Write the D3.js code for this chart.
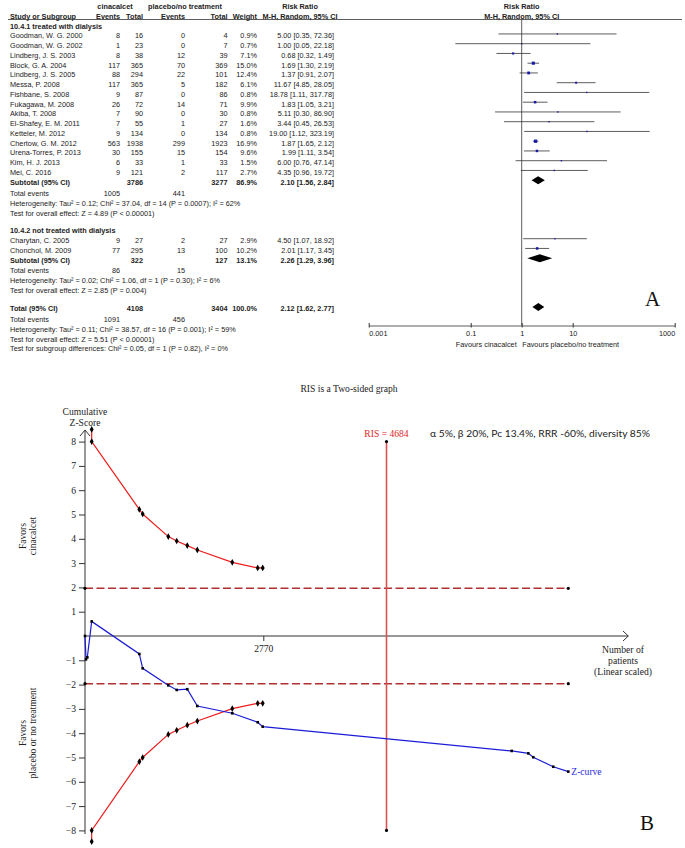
<!DOCTYPE html>
<html>
<head>
<meta charset="utf-8">
<script src="https://cdn.jsdelivr.net/npm/d3@7"></script>
<style>
  body { margin: 0; background: #fff; }
  svg { display: block; }
</style>
</head>
<body>
<div id="wrapper"></div>
<script>
// ---------- panel A: forest plot data ----------
const group1Title = '10.4.1 treated with dialysis'
// name, cinacalcet events, total, placebo events, total, weight %, RR, lower, upper
const group1Studies = [
  ['Goodman, W. G. 2000', 8, 16, 0, 4, 0.9, 5.00, 0.35, 72.36],
  ['Goodman, W. G. 2002', 1, 23, 0, 7, 0.7, 1.00, 0.05, 22.18],
  ['Lindberg, J. S. 2003', 8, 38, 12, 39, 7.1, 0.68, 0.32, 1.49],
  ['Block, G. A. 2004', 117, 365, 70, 369, 15.0, 1.69, 1.30, 2.19],
  ['Lindberg, J. S. 2005', 88, 294, 22, 101, 12.4, 1.37, 0.91, 2.07],
  ['Messa, P. 2008', 117, 365, 5, 182, 6.1, 11.67, 4.85, 28.05],
  ['Fishbane, S. 2008', 9, 87, 0, 86, 0.8, 18.78, 1.11, 317.78],
  ['Fukagawa, M. 2008', 26, 72, 14, 71, 9.9, 1.83, 1.05, 3.21],
  ['Akiba, T. 2008', 7, 90, 0, 30, 0.8, 5.11, 0.30, 86.90],
  ['El-Shafey, E. M. 2011', 7, 55, 1, 27, 1.6, 3.44, 0.45, 26.53],
  ['Ketteler, M. 2012', 9, 134, 0, 134, 0.8, 19.00, 1.12, 323.19],
  ['Chertow, G. M. 2012', 563, 1938, 299, 1923, 16.9, 1.87, 1.65, 2.12],
  ['Urena-Torres, P. 2013', 30, 155, 15, 154, 9.6, 1.99, 1.11, 3.54],
  ['Kim, H. J. 2013', 6, 33, 1, 33, 1.5, 6.00, 0.76, 47.14],
  ['Mei, C. 2016', 9, 121, 2, 117, 2.7, 4.35, 0.96, 19.72],
]
// cin total, pla total, weight, RR, lower, upper
const group1Subtotal = [3786, 3277, 86.9, 2.10, 1.56, 2.84]
const group1Events = [1005, 441]
const group1Notes = [
  'Heterogeneity: Tau² = 0.12; Chi² = 37.04, df = 14 (P = 0.0007); I² = 62%',
  'Test for overall effect: Z = 4.89 (P < 0.00001)',
]

const group2Title = '10.4.2 not treated with dialysis'
const group2Studies = [
  ['Charytan, C. 2005', 9, 27, 2, 27, 2.9, 4.50, 1.07, 18.92],
  ['Chonchol, M. 2009', 77, 295, 13, 100, 10.2, 2.01, 1.17, 3.45],
]
const group2Subtotal = [322, 127, 13.1, 2.26, 1.29, 3.96]
const group2Events = [86, 15]
const group2Notes = [
  'Heterogeneity: Tau² = 0.02; Chi² = 1.06, df = 1 (P = 0.30); I² = 6%',
  'Test for overall effect: Z = 2.85 (P = 0.004)',
]

const overallTotal = [4108, 3404, 100.0, 2.12, 1.62, 2.77]
const overallEvents = [1091, 456]
const overallNotes = [
  'Heterogeneity: Tau² = 0.11; Chi² = 38.57, df = 16 (P = 0.001); I² = 59%',
  'Test for overall effect: Z = 5.51 (P < 0.00001)',
  'Test for subgroup differences: Chi² = 0.05, df = 1 (P = 0.82), I² = 0%',
]
const rrTicks = [0.001, 0.1, 1, 10, 1000]

// ---------- panel B: trial sequential analysis data ----------
// cumulative number of patients and cumulative z at each point of the z-curve
const zCurveN = [0, 16, 36, 104, 844, 896, 1294, 1425, 1589, 1745, 2288, 2683, 2761, 6629, 6887, 6964, 7275, 7508]
const zCurveZ = [0, -0.96, -0.88, 0.60, -0.74, -1.33, -2.03, -2.22, -2.19, -2.88, -3.18, -3.55, -3.73, -4.73, -4.83, -4.99, -5.38, -5.58]
// monitoring boundaries
const boundN = [104, 104, 844, 896, 1294, 1425, 1589, 1745, 2288, 2683, 2761]
const upperZ = [8.5, 8.0, 5.21, 5.02, 4.09, 3.91, 3.72, 3.54, 3.03, 2.80, 2.80]
const lowerZ = [-8.46, -8.0, -5.17, -5.0, -4.05, -3.88, -3.67, -3.50, -2.99, -2.77, -2.77]
const conventionalZ = [1.96, -1.96]
const conventionalN = [0, 7508]
const risN = 4684
const risZ = [8, -8]
const xTicksB = [2770]
const yTicksB = [8, 7, 6, 5, 4, 3, 2, 1, -1, -2, -3, -4, -5, -6, -7, -8]

// ---------- svg ----------
const width = 685
const height = 848
const svg = d3.select('#wrapper')
  .append('svg')
  .attr('width', width)
  .attr('height', height)
svg.append('rect').attr('width', width).attr('height', height).attr('fill', '#fff')

// =============== panel A ===============
const sans = 'Liberation Sans, Arial, sans-serif'
const serif = 'Liberation Serif, Times New Roman, serif'
const fs = 7.3
const ink = '#222'

const panelA = svg.append('g').attr('class', 'forest')
  .attr('font-family', sans).attr('font-size', fs).attr('fill', ink)

// row index -> vertical position (text centre)
const rowY = d3.scaleLinear().domain([0, 1]).range([26, 35.75])
const xRR = d3.scaleLog().domain([0.001, 1000]).range([368.7, 674.7])

const col = { name: 10, ce: 120, ct: 143, pe: 185, pt: 227.5, w: 257, ci: 334, ciHead: 300 }
const fmt2 = d3.format('.2f')
const fmtW = (d) => d3.format('.1f')(d) + '%'
const ciText = (rr, lo, hi) => `${fmt2(rr)} [${fmt2(lo)}, ${fmt2(hi)}]`

function txt(x, y, s, anchor = 'start', bold = false) {
  panelA.append('text')
    .attr('x', x).attr('y', y + 2.6)
    .attr('text-anchor', anchor)
    .attr('font-weight', bold ? 'bold' : 'normal')
    .text(s)
}

// headers
txt(115, 6, 'cinacalcet', 'middle', true)
txt(185, 6, 'placebo/no treatment', 'middle', true)
txt(col.ciHead, 6, 'Risk Ratio', 'middle', true)
txt(xRR(1), 6, 'Risk Ratio', 'middle', true)
txt(col.name, 16, 'Study or Subgroup', 'start', true)
txt(col.ce, 16, 'Events', 'end', true)
txt(col.ct, 16, 'Total', 'end', true)
txt(col.pe, 16, 'Events', 'end', true)
txt(col.pt, 16, 'Total', 'end', true)
txt(col.w, 16, 'Weight', 'end', true)
txt(col.ciHead, 16, 'M-H, Random, 95% CI', 'middle', true)
txt(xRR(1), 16, 'M-H, Random, 95% CI', 'middle', true)
panelA.append('line')
  .attr('x1', 8).attr('x2', 682).attr('y1', 19.5).attr('y2', 19.5)
  .attr('stroke', '#333').attr('stroke-width', 0.8)

function drawStudies(list, startSlot) {
  list.forEach((s, i) => {
    const y = rowY(startSlot + i)
    txt(col.name, y, s[0])
    txt(col.ce, y, s[1], 'end')
    txt(col.ct, y, s[2], 'end')
    txt(col.pe, y, s[3], 'end')
    txt(col.pt, y, s[4], 'end')
    txt(col.w, y, fmtW(s[5]), 'end')
    txt(col.ci, y, ciText(s[6], s[7], s[8]), 'end')
    const my = y - 1.8
    panelA.append('line')
      .attr('x1', xRR(s[7])).attr('x2', xRR(s[8]))
      .attr('y1', my).attr('y2', my)
      .attr('stroke', '#333').attr('stroke-width', 0.8)
    const side = Math.max(1.4, 0.8 * Math.sqrt(s[5]))
    panelA.append('rect')
      .attr('x', xRR(s[6]) - side / 2).attr('y', my - side / 2)
      .attr('width', side).attr('height', side)
      .attr('fill', '#1a1aa8')
  })
}

function drawTotal(label, t, slot) {
  const y = rowY(slot)
  txt(col.name, y, label, 'start', true)
  txt(col.ct, y, t[0], 'end', true)
  txt(col.pt, y, t[1], 'end', true)
  txt(col.w, y, fmtW(t[2]), 'end', true)
  txt(col.ci, y, ciText(t[3], t[4], t[5]), 'end', true)
  const my = y - 1.8
  panelA.append('polygon')
    .attr('points', [[xRR(t[4]), my], [xRR(t[3]), my - 4], [xRR(t[5]), my], [xRR(t[3]), my + 4]].join(' '))
    .attr('fill', '#000')
}

function drawEvents(ev, slot) {
  const y = rowY(slot)
  txt(col.name, y, 'Total events')
  txt(col.ce, y, ev[0], 'end')
  txt(col.pe, y, ev[1], 'end')
}

function drawNotes(notes, slot) {
  notes.forEach((n, i) => txt(col.name, rowY(slot + i), n))
}

txt(col.name, rowY(0), group1Title, 'start', true)
drawStudies(group1Studies, 1)
drawTotal('Subtotal (95% CI)', group1Subtotal, 16)
drawEvents(group1Events, 17.2)
drawNotes(group1Notes, 18.2)

txt(col.name, rowY(21), group2Title, 'start', true)
drawStudies(group2Studies, 22)
drawTotal('Subtotal (95% CI)', group2Subtotal, 24)
drawEvents(group2Events, 25.1)
drawNotes(group2Notes, 26.1)

drawTotal('Total (95% CI)', overallTotal, 29)
drawEvents(overallEvents, 30.1)
drawNotes(overallNotes, 31.1)

// null line and axis
panelA.append('line')
  .attr('x1', xRR(1)).attr('x2', xRR(1)).attr('y1', 19.5).attr('y2', 325.5)
  .attr('stroke', '#333').attr('stroke-width', 0.8)

const rrAxis = panelA.append('g')
  .attr('transform', 'translate(0, 325.5)')
  .call(d3.axisBottom(xRR).tickValues(rrTicks).tickFormat((d) => String(d))
    .tickSize(2).tickSizeOuter(0).tickPadding(3.5))
rrAxis.select('.domain').attr('stroke', '#333').attr('stroke-width', 0.8)
rrAxis.selectAll('.tick line').attr('y1', -2.5).attr('stroke', '#333')
rrAxis.selectAll('.tick text')
  .attr('font-family', sans).attr('font-size', fs).attr('fill', ink)
  // end labels stay inside the axis
  .attr('text-anchor', (d, i) => (i === 0 ? 'start' : i === rrTicks.length - 1 ? 'end' : 'middle'))

txt(xRR(1) - 5, 344, 'Favours cinacalcet', 'end')
txt(xRR(1) + 0.5, 344, 'Favours placebo/no treatment', 'start')

panelA.append('text')
  .attr('x', 645).attr('y', 306)
  .attr('font-family', serif).attr('font-size', 21).attr('fill', '#111')
  .text('A')

// =============== panel B ===============
const panelB = svg.append('g').attr('class', 'tsa')
  .attr('font-family', serif).attr('font-size', 9.6).attr('fill', '#222')

const xT = d3.scaleLinear().domain([0, 2770]).range([85, 263.3])
const yT = d3.scaleLinear().domain([0, 8]).range([636, 441.6])

panelB.append('text')
  .attr('x', 349).attr('y', 391.5).attr('text-anchor', 'middle')
  .text('RIS is a Two-sided graph')

// axes
const yAxisB = panelB.append('g')
  .attr('transform', `translate(${xT(0)},0)`)
  .call(d3.axisLeft(yT).tickValues(yTicksB).tickSize(6).tickPadding(3).tickFormat(d3.format('d')))
yAxisB.select('.domain').remove()
yAxisB.selectAll('.tick line').attr('stroke', '#333')
yAxisB.selectAll('.tick text').attr('font-family', serif).attr('font-size', 9.6).attr('fill', '#222')

const xAxisB = panelB.append('g')
  .attr('transform', `translate(0,${yT(0)})`)
  .call(d3.axisBottom(xT).tickValues(xTicksB).tickSize(5).tickPadding(4).tickFormat(d3.format('d')))
xAxisB.select('.domain').remove()
xAxisB.selectAll('.tick line').attr('stroke', '#333')
xAxisB.selectAll('.tick text').attr('font-family', serif).attr('font-size', 9.6).attr('fill', '#222')

// axis lines with open arrow heads
panelB.append('path')
  .attr('d', `M${xT(0)},834 V430 M${xT(0) - 5},436 L${xT(0)},430 L${xT(0) + 5},436`)
  .attr('fill', 'none').attr('stroke', '#333').attr('stroke-width', 1)
panelB.append('path')
  .attr('d', `M${xT(0)},${yT(0)} H628.3 M623,${yT(0) - 5} L628.3,${yT(0)} L623,${yT(0) + 5}`)
  .attr('fill', 'none').attr('stroke', '#333').attr('stroke-width', 1)

// axis titles
panelB.append('text').attr('x', 85).attr('y', 414.8).attr('text-anchor', 'middle').text('Cumulative')
panelB.append('text').attr('x', 85).attr('y', 425.8).attr('text-anchor', 'middle').text('Z-Score')

function rotated(cx, cy, lines) {
  const t = panelB.append('text')
    .attr('transform', `translate(${cx},${cy}) rotate(-90)`)
    .attr('text-anchor', 'middle')
  lines.forEach((l, i) => t.append('tspan').attr('x', 0).attr('y', i * 10.5).text(l))
}
rotated(25.8, 536, ['Favors', 'cinacalcet'])
rotated(25.8, 733, ['Favors', 'placebo or no treatment'])

const nLines = ['Number of', 'patients', '(Linear scaled)']
nLines.forEach((l, i) => {
  panelB.append('text').attr('x', 623).attr('y', 653 + i * 11).attr('text-anchor', 'middle').text(l)
})

// conventional boundaries (dashed)
conventionalZ.forEach((z) => {
  panelB.append('line')
    .attr('x1', xT(conventionalN[0])).attr('x2', xT(conventionalN[1]))
    .attr('y1', yT(z)).attr('y2', yT(z))
    .attr('stroke', '#b03030').attr('stroke-width', 1.5)
    .attr('stroke-dasharray', '8,3.5')
  conventionalN.forEach((n) => {
    panelB.append('circle').attr('cx', xT(n)).attr('cy', yT(z)).attr('r', 1.6).attr('fill', '#000')
  })
})

// required information size
panelB.append('line')
  .attr('x1', xT(risN)).attr('x2', xT(risN))
  .attr('y1', yT(risZ[0])).attr('y2', yT(risZ[1]))
  .attr('stroke', '#dc5050').attr('stroke-width', 1.6)
risZ.forEach((z) => {
  panelB.append('circle').attr('cx', xT(risN)).attr('cy', yT(z)).attr('r', 1.6).attr('fill', '#000')
})
panelB.append('text')
  .attr('x', xT(risN)).attr('y', 437).attr('text-anchor', 'middle')
  .attr('fill', '#e0262a').text(`RIS = ${risN}`)

panelB.append('text')
  .attr('x', 430).attr('y', 436.8)
  .attr('font-family', 'Lato, Open Sans, sans-serif').attr('font-size', 10)
  .attr('textLength', 220).attr('lengthAdjust', 'spacingAndGlyphs')
  .text('α 5%, β 20%, Pc 13.4%, RRR -60%, diversity 85%')

// monitoring boundaries
const line = d3.line().x((d) => xT(d[0])).y((d) => yT(d[1]))
const diamond = d3.symbol().type(d3.symbolDiamond).size(13)
;[upperZ, lowerZ].forEach((zs) => {
  const pts = boundN.map((n, i) => [n, zs[i]])
  panelB.append('path').attr('d', line(pts))
    .attr('fill', 'none').attr('stroke', '#ee1c1c').attr('stroke-width', 1.2)
  panelB.selectAll(null).data(pts).enter().append('path')
    .attr('d', diamond)
    .attr('transform', (d) => `translate(${xT(d[0])},${yT(d[1])})`)
    .attr('fill', '#000')
})

// z-curve
const zPts = zCurveN.map((n, i) => [n, zCurveZ[i]])
panelB.append('path').attr('d', line(zPts))
  .attr('fill', 'none').attr('stroke', '#1c1cd6').attr('stroke-width', 1.2)
panelB.selectAll(null).data(zPts).enter().append('rect')
  .attr('x', (d) => xT(d[0]) - 1.3).attr('y', (d) => yT(d[1]) - 1.3)
  .attr('width', 2.6).attr('height', 2.6).attr('fill', '#000')
const lastZ = zPts[zPts.length - 1]
panelB.append('text')
  .attr('x', xT(lastZ[0]) + 3).attr('y', yT(lastZ[1]) + 3)
  .attr('fill', '#2a2ae0').text('Z-curve')

panelB.append('text')
  .attr('x', 640).attr('y', 830)
  .attr('font-size', 21).attr('fill', '#111')
  .text('B')
</script>
</body>
</html>
